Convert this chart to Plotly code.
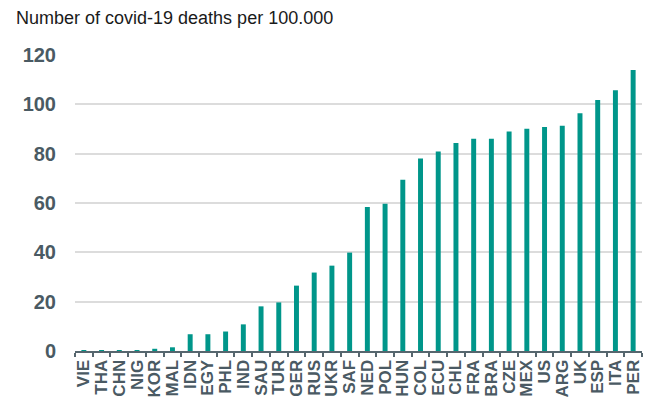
import plotly.graph_objects as go

# Covid-19 deaths per 100,000 inhabitants, by country
countries = ["VIE", "THA", "CHN", "NIG", "KOR", "MAL", "IDN", "EGY", "PHL", "IND",
             "SAU", "TUR", "GER", "RUS", "UKR", "SAF", "NED", "POL", "HUN", "COL",
             "ECU", "CHL", "FRA", "BRA", "CZE", "MEX", "US", "ARG", "UK", "ESP",
             "ITA", "PER"]
deaths_per_100k = [0.04, 0.1, 0.3, 0.1, 0.9, 1.5, 6.8, 6.8, 7.9, 10.8,
                   18.1, 19.7, 26.5, 31.8, 34.6, 39.9, 58.4, 59.7, 69.4, 78.0,
                   80.9, 84.3, 86.0, 86.0, 89.0, 90.1, 90.8, 91.3, 96.4, 101.8,
                   105.7, 113.9]
y_ticks = [0, 20, 40, 60, 80, 100, 120]

BAR = "#00968A"
TEXT = "#4A5A63"
AXIS = "#56666E"

fig = go.Figure(go.Bar(
    x=countries,
    y=deaths_per_100k,
    marker=dict(color=BAR, line=dict(width=0)),
))

fig.update_layout(
    width=659, height=403,
    margin=dict(l=75, r=17, t=55, b=52),
    paper_bgcolor="white", plot_bgcolor="white",
    bargap=0.72,
    showlegend=False,
    font=dict(family="Liberation Sans, Arial, sans-serif", color=TEXT),
    annotations=[dict(
        text="Number of covid-19 deaths per 100.000",
        xref="paper", yref="paper", x=-61 / 567, y=1,
        xanchor="left", yanchor="bottom", yshift=25, showarrow=False,
        font=dict(size=18, color="#1A1A1A", family="Liberation Sans, Arial, sans-serif"),
    )],
)

fig.update_xaxes(
    type="category",
    tickmode="array", tickvals=countries, ticktext=countries,
    tickangle=-90,
    tickfont=dict(size=17, color=TEXT, weight="bold"),
    showline=True, linecolor=AXIS, linewidth=2,
    ticks="outside", tickson="boundaries", ticklen=4, tickwidth=2, tickcolor=AXIS,
    showgrid=False,
    automargin=False,
)

fig.update_yaxes(
    range=[0, 120],
    tickvals=y_ticks,
    tickfont=dict(size=20, color=TEXT, weight="bold"),
    showgrid=True, gridcolor="#DCDCDC", gridwidth=1.5,
    zeroline=False, showline=False,
    ticklabelstandoff=18,
    automargin=False,
)

fig.write_html("out.html")
